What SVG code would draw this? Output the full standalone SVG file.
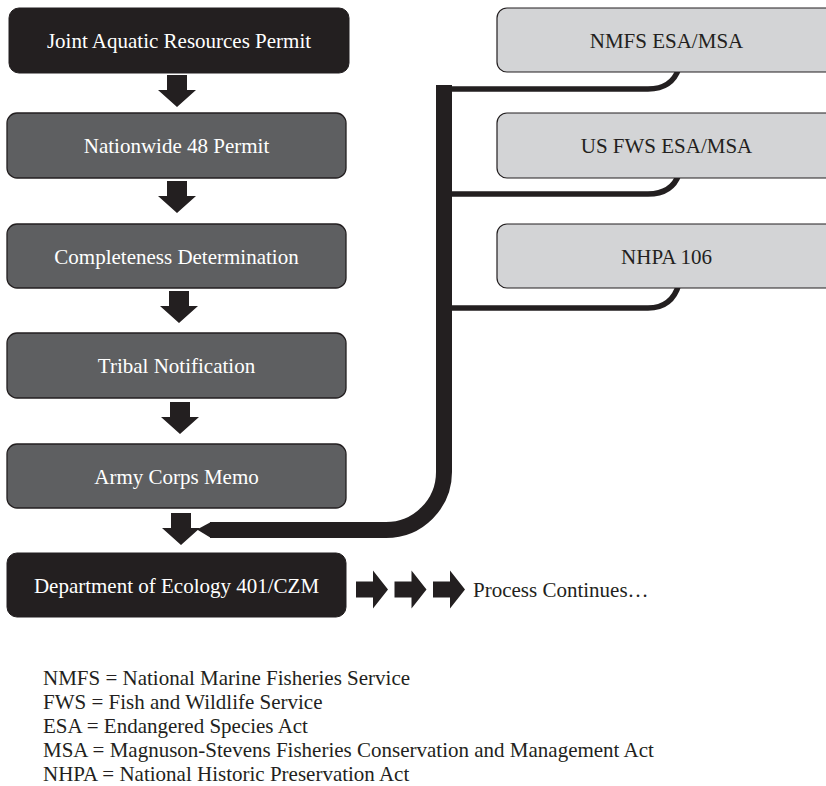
<svg xmlns="http://www.w3.org/2000/svg" width="826" height="786" viewBox="0 0 826 786">
  <style>
    text { font-family: "Liberation Serif", "Times New Roman", serif; font-size: 21px; }
    .dark { fill: #231f20; stroke: #231f20; stroke-width: 1; }
    .mid { fill: #5e5f61; stroke: #231f20; stroke-width: 1.3; }
    .light { fill: #d3d4d6; stroke: #231f20; stroke-width: 1.2; }
    .wt { fill: #ffffff; text-anchor: middle; }
    .bt { fill: #231f20; text-anchor: middle; }
    .lg { fill: #231f20; }
    .branch { fill: none; stroke: #231f20; stroke-width: 5.5; }
    .trunk { fill: none; stroke: #231f20; stroke-width: 16; }
    .arr { fill: #231f20; }
  </style>
  <defs>
    <path id="down" d="M-10,0 H10 V15 H19 L0,32 L-19,15 H-10 Z"/>
    <path id="right" d="M0,-8 H17 V-19 L32,0 L17,19 V8 H0 Z"/>
  </defs>

  <g id="connectors">
    <path class="branch" d="M444,89 H648 Q672,89 679,68"/>
    <path class="branch" d="M444,194 H648 Q672,194 679,174"/>
    <path class="branch" d="M444,308 H648 Q672,308 679,284"/>
    <path class="trunk" d="M444,85 V472 A58,58 0 0 1 386,530 H210"/>
    <polygon class="arr" points="211,522 197,529.5 211,538"/>
    <use href="#down" class="arr" x="177" y="75"/>
    <use href="#down" class="arr" x="177" y="181"/>
    <use href="#down" class="arr" x="179" y="291"/>
    <use href="#down" class="arr" x="180" y="402"/>
    <use href="#down" class="arr" x="181" y="513"/>
    <use href="#right" class="arr" x="356" y="589.5"/>
    <use href="#right" class="arr" x="394.5" y="589.5"/>
    <use href="#right" class="arr" x="433" y="589.5"/>
  </g>

  <g id="node-jarp">
    <rect class="dark" x="9" y="8" width="340" height="65" rx="10"/>
    <text class="wt" x="179" y="48">Joint Aquatic Resources Permit</text>
  </g>
  <g id="node-nw48">
    <rect class="mid" x="7" y="113" width="339" height="65" rx="10"/>
    <text class="wt" x="176.5" y="153">Nationwide 48 Permit</text>
  </g>
  <g id="node-complete">
    <rect class="mid" x="7" y="224" width="339" height="64" rx="10"/>
    <text class="wt" x="176.5" y="264">Completeness Determination</text>
  </g>
  <g id="node-tribal">
    <rect class="mid" x="7" y="333" width="339" height="65" rx="10"/>
    <text class="wt" x="176.5" y="373">Tribal Notification</text>
  </g>
  <g id="node-army">
    <rect class="mid" x="7" y="444" width="339" height="64" rx="10"/>
    <text class="wt" x="176.5" y="484">Army Corps Memo</text>
  </g>
  <g id="node-ecology">
    <rect class="dark" x="7" y="553" width="339" height="64" rx="10"/>
    <text class="wt" x="176.5" y="593">Department of Ecology 401/CZM</text>
  </g>

  <g id="node-nmfs">
    <rect class="light" x="497" y="8" width="340" height="64" rx="10"/>
    <text class="bt" x="666.5" y="48">NMFS ESA/MSA</text>
  </g>
  <g id="node-usfws">
    <rect class="light" x="497" y="113" width="340" height="65" rx="10"/>
    <text class="bt" x="666.5" y="153">US FWS ESA/MSA</text>
  </g>
  <g id="node-nhpa">
    <rect class="light" x="497" y="224" width="340" height="64" rx="10"/>
    <text class="bt" x="666.5" y="264">NHPA 106</text>
  </g>

  <g id="continues">
    <text class="lg" x="473" y="597">Process Continues…</text>
  </g>

  <g id="legend">
    <text class="lg" x="43" y="685">NMFS = National Marine Fisheries Service</text>
    <text class="lg" x="43" y="709">FWS = Fish and Wildlife Service</text>
    <text class="lg" x="43" y="733">ESA = Endangered Species Act</text>
    <text class="lg" x="43" y="757">MSA = Magnuson-Stevens Fisheries Conservation and Management Act</text>
    <text class="lg" x="43" y="781">NHPA = National Historic Preservation Act</text>
  </g>
</svg>
